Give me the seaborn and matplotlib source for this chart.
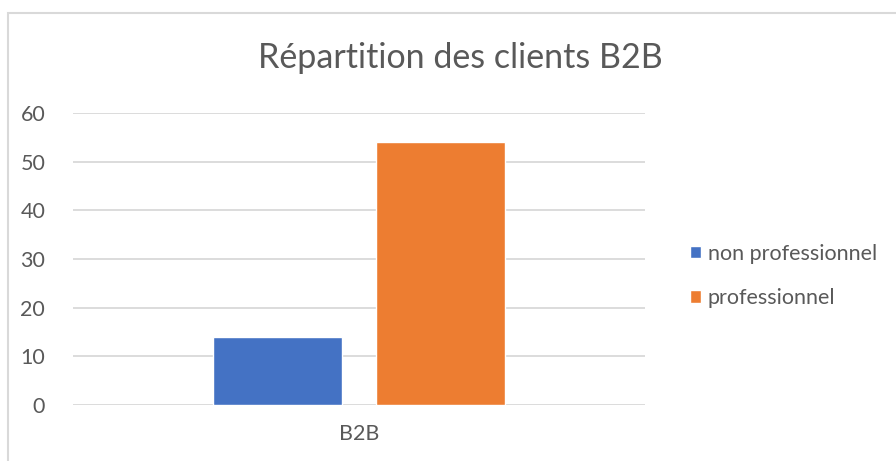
import matplotlib
matplotlib.use("Agg")
import matplotlib.pyplot as plt
import seaborn as sns
import pandas as pd
from matplotlib.patches import Rectangle

CATEGORIES = ["B2B"]
SERIES = ["non professionnel", "professionnel"]
VALUES = [14, 54]
COLORS = {"non professionnel": "#4472C4", "professionnel": "#ED7D31"}
TEXT = "#595959"
GRID = "#D9D9D9"

df = pd.DataFrame({
    "category": CATEGORIES * len(SERIES),
    "series": SERIES,
    "value": VALUES,
})

sns.set_theme(style="white")
plt.rcParams["font.family"] = ["Lato", "DejaVu Sans"]

W, H = 896, 461
fig = plt.figure(figsize=(W / 100, H / 100), dpi=100)
ax = fig.add_axes([73 / W, (H - 405) / H, (645 - 73) / W, (405 - 113) / H])

sns.barplot(data=df, x="category", y="value", hue="series",
            palette=COLORS, width=0.57, gap=0.21, saturation=1,
            ax=ax, legend=True)

ax.set_xlim(-0.5, 0.5)
ax.set_ylim(0, 60)
ax.set_yticks(range(0, 61, 10))
ax.yaxis.grid(True, color=GRID, linewidth=1.3)
ax.set_axisbelow(True)
for side in ["top", "right", "left", "bottom"]:
    ax.spines[side].set_visible(False)
ax.tick_params(axis="both", length=0, labelsize=15.5, colors=TEXT)
ax.tick_params(axis="y", pad=20)
ax.tick_params(axis="x", pad=14)
ax.set_xlabel("")
ax.set_ylabel("")

handles, labels = ax.get_legend_handles_labels()
ax.get_legend().remove()
fig.legend(handles, labels, loc="center left",
           bbox_to_anchor=(681 / W, 1 - 276 / H), frameon=False,
           fontsize=15.5, labelcolor=TEXT, handlelength=0.55, handleheight=0.55,
           handletextpad=0.3, labelspacing=1.15, borderaxespad=0)

fig.text(460 / W, 1 - 58 / H, "Répartition des clients B2B",
         ha="center", va="center", fontsize=24.5, color=TEXT)

fig.patches.append(Rectangle((8 / W, -0.1), 1.2, 1 - 13 / H + 0.1,
                             transform=fig.transFigure, fill=False,
                             edgecolor=GRID, linewidth=1.5, zorder=-1))

fig.savefig("out.png", dpi=100)
